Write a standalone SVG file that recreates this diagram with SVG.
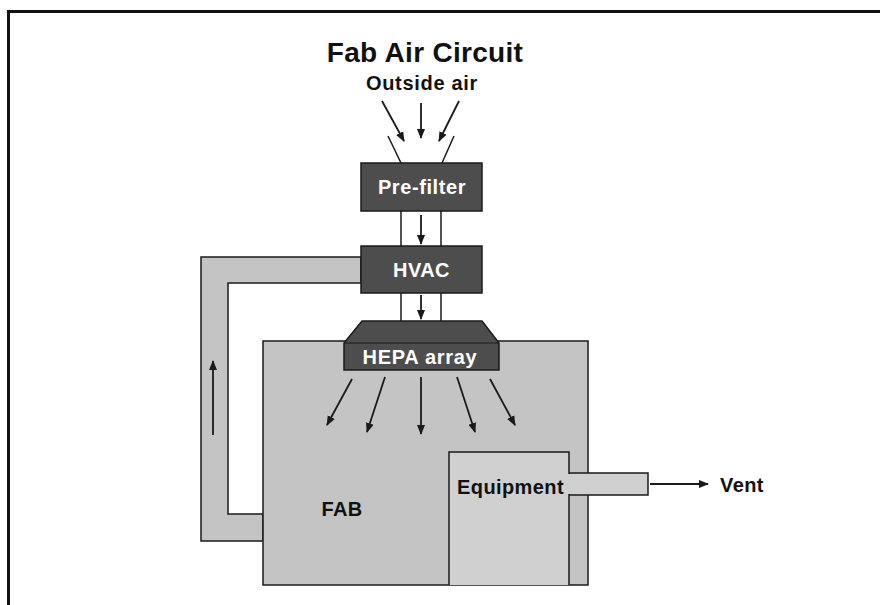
<svg xmlns="http://www.w3.org/2000/svg" width="880" height="605" viewBox="0 0 880 605">
<defs>
<style>
.dark{fill:#4d4d4d;stroke:#1a1a1a;stroke-width:1.5}
.grey{fill:#c4c4c4;stroke:#1a1a1a;stroke-width:1.5}
.light{fill:#d0d0d0;stroke:#1a1a1a;stroke-width:1.5}
.ln{fill:none;stroke:#1a1a1a;stroke-width:1.5}
.arr{fill:none;stroke:#1a1a1a;stroke-width:1.8;marker-end:url(#ah)}
.t{font-family:"Liberation Sans",Arial,sans-serif;font-weight:bold;text-anchor:middle;font-size:20px;letter-spacing:0.4px}
.w{fill:#ffffff}
.b{fill:#111111}
</style>
<marker id="ah" viewBox="0 0 10 10" refX="9" refY="5" markerWidth="10" markerHeight="10" orient="auto" markerUnits="userSpaceOnUse">
<path d="M0,1 L10,5 L0,9 z" fill="#1a1a1a"/>
</marker>
</defs>
<rect width="880" height="605" fill="#ffffff"/>
<path d="M8.5,605 V11.5 H880" fill="none" stroke="#111" stroke-width="3"/>
<text class="t b" x="425" y="62" style="font-size:28px;letter-spacing:0.3px">Fab Air Circuit</text>
<text class="t b" x="422" y="90" style="letter-spacing:0.7px">Outside air</text>

<g id="return-duct">
<path class="grey" d="M361,257 H201 V541 H263 V514 H228 V283 H361 Z"/>
</g>
<g id="fab">
<rect class="grey" x="263" y="341" width="325" height="244"/>
<text class="t b" x="342" y="516">FAB</text>
</g>
<g id="duct-lines">
<line class="ln" x1="401" y1="211" x2="401" y2="246"/>
<line class="ln" x1="441" y1="211" x2="441" y2="246"/>
<line class="ln" x1="401" y1="293" x2="401" y2="321"/>
<line class="ln" x1="441" y1="293" x2="441" y2="321"/>
<line class="ln" x1="388" y1="136" x2="401" y2="163"/>
<line class="ln" x1="454" y1="136" x2="442" y2="163"/>
</g>
<g id="prefilter">
<rect class="dark" x="361" y="163" width="121" height="48"/>
<text class="t w" x="422" y="194" style="letter-spacing:0.6px">Pre-filter</text>
</g>
<g id="hvac">
<rect class="dark" x="361" y="246" width="121" height="47"/>
<text class="t w" x="421.5" y="277">HVAC</text>
</g>
<g id="hepa">
<path class="dark" d="M362,321 H482 L499,343 V370 H344 V343 Z"/>
<line x1="344" y1="343" x2="499" y2="343" stroke="#1a1a1a" stroke-width="1.2"/>
<text class="t w" x="420" y="364" style="letter-spacing:0.7px">HEPA array</text>
</g>
<g id="exhaust-duct">
<rect class="light" x="569" y="473" width="79" height="22"/>
</g>
<g id="equipment">
<path class="light" d="M449,585 V452 H569 V585"/>
<rect x="568" y="474" width="3" height="20" fill="#d0d0d0"/>
<text class="t b" x="510.5" y="494">Equipment</text>
</g>
<g id="vent">
<text class="t b" x="742" y="492">Vent</text>
</g>
<g id="connectors">
<line class="arr" x1="382" y1="101" x2="404" y2="141"/>
<line class="arr" x1="421" y1="103" x2="421" y2="138"/>
<line class="arr" x1="459" y1="101" x2="439" y2="141"/>
<line class="arr" x1="421" y1="215" x2="421" y2="244"/>
<line class="arr" x1="421" y1="295" x2="421" y2="319"/>
<line class="arr" x1="352" y1="379" x2="327" y2="425"/>
<line class="arr" x1="385" y1="377" x2="367" y2="432"/>
<line class="arr" x1="421" y1="377" x2="421" y2="434"/>
<line class="arr" x1="457" y1="377" x2="475" y2="432"/>
<line class="arr" x1="490" y1="379" x2="515" y2="425"/>
<line class="arr" x1="213" y1="435" x2="213" y2="361"/>
<line class="arr" x1="650" y1="484" x2="708" y2="484"/>
</g>
</svg>
